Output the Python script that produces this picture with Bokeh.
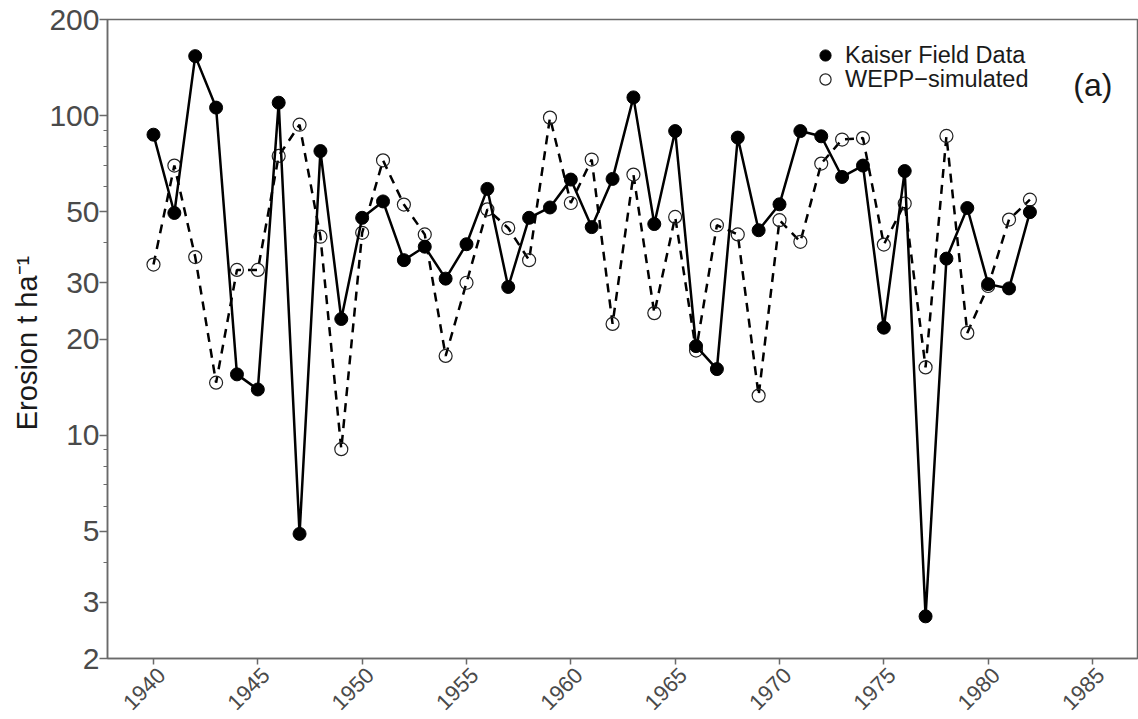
import math
from bokeh.plotting import figure
from bokeh.models import (FixedTicker, PrintfTickFormatter, Legend, LegendItem, Label, Range1d,
                          ColumnDataSource, LinearAxis)
from bokeh.embed import file_html
from bokeh.resources import INLINE

years = list(range(1940, 1983))
kaiser = [87.2, 49.6, 153.6, 106.0, 15.5, 13.9, 109.8, 4.91, 77.5, 23.1,
          47.9, 53.9, 35.3, 38.9, 30.9, 39.6, 59.0, 29.1, 47.9, 51.6,
          63.1, 44.8, 63.4, 114.1, 45.8, 89.5, 19.0, 16.1, 85.4, 43.8,
          52.8, 89.5, 86.2, 64.3, 69.8, 21.7, 67.1, 2.71, 35.7, 51.4,
          29.7, 28.8, 49.9]
wepp = [34.2, 69.8, 36.1, 14.6, 32.9, 32.9, 74.8, 93.7, 41.8, 9.04,
        43.0, 72.5, 52.7, 42.5, 17.7, 30.0, 50.9, 44.5, 35.3, 98.6,
        53.3, 72.9, 22.3, 65.4, 24.1, 48.2, 18.4, 45.4, 42.5, 13.3,
        47.1, 40.3, 70.8, 84.2, 85.1, 39.5, 53.1, 16.3, 86.4, 20.9,
        29.3, 47.3, 54.6]
x_ticks = [1940, 1945, 1950, 1955, 1960, 1965, 1970, 1975, 1980, 1985]
y_ticks = [2, 3, 5, 10, 20, 30, 50, 100, 200]
y_minor = [4, 6, 7, 8, 9, 40, 60, 70, 80, 90]

FONT = "Liberation Sans"
GRAY = "#6a6a6a"
X0, X1 = 1937.796, 1987.156
SHIFT = 0.383  # label offset (years) so rotated labels sit like the original

p = figure(width=1138, height=719, output_backend="svg", toolbar_location=None,
           y_axis_type="log", x_axis_location=None,
           x_range=Range1d(X0, X1), y_range=Range1d(2, 200),
           min_border_left=107, min_border_right=1, min_border_top=19, min_border_bottom=60)
p.grid.visible = False
p.outline_line_color = GRAY
p.outline_line_width = 1.5
p.background_fill_color = "white"
p.border_fill_color = "white"
p.extra_x_ranges = {"lbl": Range1d(X0 - SHIFT, X1 - SHIFT)}

src = ColumnDataSource(dict(year=years, kaiser=kaiser, wepp=wepp))

wl = p.line("year", "wepp", source=src, line_color="black", line_width=2.5, line_dash="9 7")
ws = p.scatter("year", "wepp", source=src, size=13, marker="circle", fill_alpha=0,
               line_color="#222222", line_width=1.2)
kl = p.line("year", "kaiser", source=src, line_color="black", line_width=2.5)
ks = p.scatter("year", "kaiser", source=src, size=13, marker="circle", fill_color="black",
               line_color="black")

# x axis: labels on the offset range; tick marks (as minor ticks) at the true years
xa = LinearAxis(x_range_name="lbl",
                ticker=FixedTicker(ticks=x_ticks, minor_ticks=[t - SHIFT for t in x_ticks]))
xa.axis_line_color = GRAY
xa.axis_line_width = 1.5
xa.major_tick_line_color = None
xa.major_tick_out = 0
xa.major_tick_in = 0
xa.minor_tick_line_color = GRAY
xa.minor_tick_line_width = 1.5
xa.minor_tick_out = 6
xa.minor_tick_in = 0
xa.major_label_orientation = math.pi / 4
xa.major_label_standoff = 7
xa.major_label_text_font = FONT
xa.major_label_text_font_size = "22px"
xa.major_label_text_color = "#4a4a4a"
p.add_layout(xa, "below")

p.yaxis.ticker = FixedTicker(ticks=y_ticks, minor_ticks=y_minor)
p.yaxis.formatter = PrintfTickFormatter(format="%d")
p.yaxis.axis_line_color = GRAY
p.yaxis.axis_line_width = 1.5
p.yaxis.major_tick_line_color = GRAY
p.yaxis.major_tick_line_width = 1.5
p.yaxis.major_tick_in = 0
p.yaxis.minor_tick_in = 0
p.yaxis.minor_tick_line_color = GRAY
p.yaxis.minor_tick_line_width = 1.2
p.yaxis.major_tick_out = 8
p.yaxis.minor_tick_out = 4
p.yaxis.major_label_text_font = FONT
p.yaxis.major_label_text_color = "#4a4a4a"
p.yaxis.major_label_text_font_size = "30px"
p.yaxis.major_label_standoff = 0
p.yaxis.axis_label = "Erosion t  ha\u207b\u00b9"
p.yaxis.axis_label_text_font = FONT
p.yaxis.axis_label_text_font_style = "normal"
p.yaxis.axis_label_text_font_size = "29px"
p.yaxis.axis_label_text_color = "#1a1a1a"
p.yaxis.axis_label_standoff = 3


def make_legend(label, rends, loc):
    lg = Legend(items=[LegendItem(label=label, renderers=rends)], location=loc)
    lg.label_text_font = FONT
    lg.label_text_font_size = "23.5px"
    lg.label_text_color = "#1a1a1a"
    lg.border_line_alpha = 0
    lg.background_fill_alpha = 0
    lg.padding = 0
    lg.margin = 0
    lg.spacing = 0
    lg.glyph_width = 28
    lg.glyph_height = 28
    lg.label_height = 24
    lg.label_standoff = 6
    return lg


p.add_layout(make_legend("Kaiser Field Data", [ks], (704, 589)))
p.add_layout(make_legend("WEPP\u2212simulated", [ws], (704, 565)))

p.add_layout(Label(x=1984.08, y=125, text="(a)", text_font=FONT, text_font_size="32px",
                   text_color="#1a1a1a", text_baseline="middle"))

open("out.html", "w").write(file_html(p, INLINE))
